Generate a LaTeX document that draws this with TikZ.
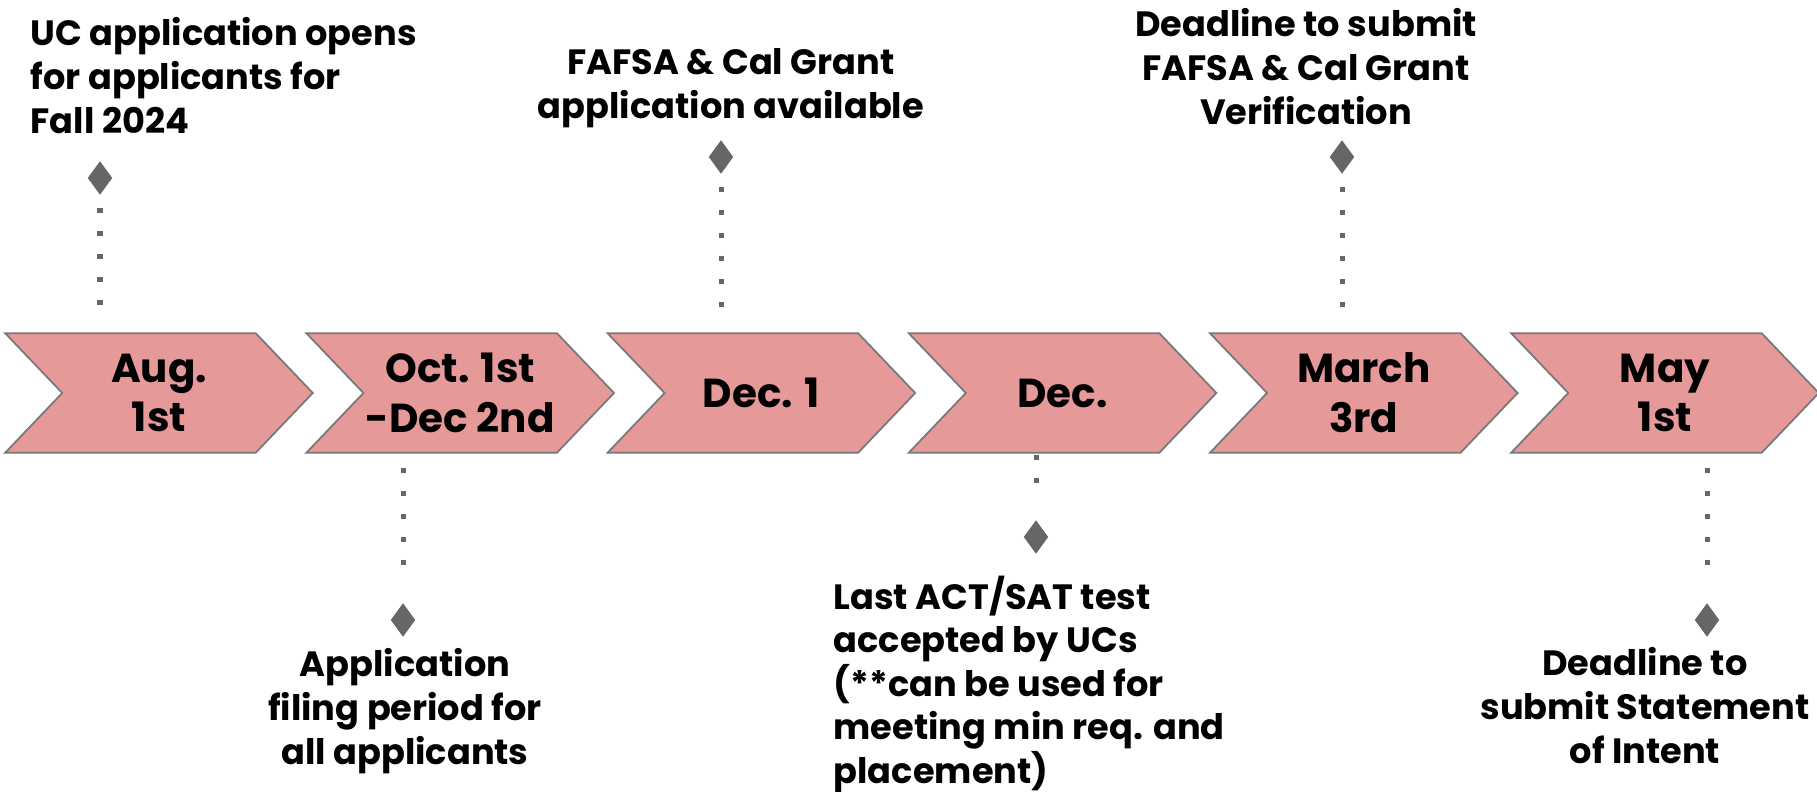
\documentclass[tikz,border=0pt]{standalone}
\usepackage{fontspec}
\setmainfont{Poppins}
\usetikzlibrary{shapes.geometric,backgrounds}

\definecolor{chevfill}{RGB}{230,153,153}
\definecolor{chevline}{RGB}{120,120,120}
\definecolor{markgray}{RGB}{102,102,102}

\tikzset{
  chev/.style={fill=chevfill, draw=chevline, line width=0.5pt},
  datebox/.style={minimum width=3.06cm, minimum height=1.18cm, inner sep=0pt,
    align=center, font=\bfseries\fontsize{11.5}{14.2}\selectfont},
  diam/.style={diamond, fill=markgray, inner sep=0pt,
    minimum width=0.25cm, minimum height=0.34cm},
  evtext/.style={inner sep=0pt, font=\bfseries\fontsize{10}{12.4}\selectfont},
  leader/.style={markgray, line width=0.05cm, dash pattern=on 0.05cm off 0.18cm}
}

\begin{document}
\begin{tikzpicture}[x=0.01cm, y=-0.01cm]
    \useasboundingbox (0,0) rectangle (1817,792);

    % date chevrons
    \foreach \i/\txt in {1/{Aug.\\1st}, 2/{Oct. 1st\\-Dec 2nd}, 3/{Dec. 1},
                         4/{Dec.}, 5/{March\\3rd}, 6/{May\\1st}}
        \node[datebox] (c\i) at ({6+301.2*(\i-1)+153}, 393) {\txt};
    \begin{scope}[on background layer]
        \fill[white] (0,0) rectangle (1817,792);
        \foreach \i in {1,...,6}
            \draw[chev] (c\i.north west) -- ([xshift=-0.57cm]c\i.north east) -- (c\i.east)
                -- ([xshift=-0.57cm]c\i.south east) -- (c\i.south west)
                -- ([xshift=0.57cm]c\i.west) -- cycle;
    \end{scope}

    % markers
    \node[diam] (d1) at (100,178) {};
    \node[diam] (d2) at (403,620) {};
    \node[diam] (d3) at (721,157) {};
    \node[diam] (d4) at (1036,537) {};
    \node[diam] (d5) at (1342,157) {};
    \node[diam] (d6) at (1707,620) {};

    \draw[leader] ([yshift=-0.12cm]d1.south) -- ([yshift=0.12cm]d1.south |- c1.north);
    \draw[leader] ([yshift=-0.12cm]d3.south) -- ([yshift=0.12cm]d3.south |- c3.north);
    \draw[leader] ([yshift=-0.12cm]d5.south) -- ([yshift=0.12cm]d5.south |- c5.north);
    \draw[leader] ([yshift=-0.15cm]d2.north |- c2.south) -- ([yshift=0.2cm]d2.north);
    \draw[leader] ([yshift=-0.02cm]d4.north |- c4.south) -- ([yshift=0.2cm]d4.north);
    \draw[leader] ([yshift=-0.15cm]d6.north |- c6.south) -- ([yshift=0.2cm]d6.north);

    % event texts
    \node[evtext, anchor=north west, align=left] (t1) at (30,17)
        {UC application opens\\for applicants for\\Fall 2024};
    \node[evtext, anchor=north, align=center] (t2) at (405,648)
        {Application\\filing period for\\all applicants};
    \node[evtext, anchor=north, align=center] (t3) at (731,48)
        {FAFSA \& Cal Grant\\application available};
    \node[evtext, anchor=north west, align=left] (t4) at (833,575)
        {Last ACT/SAT test\\accepted by UCs\\(**can be used for\\meeting min req. and\\placement)};
    \node[evtext, anchor=north, align=center] (t5) at (1306,8)
        {Deadline to submit\\FAFSA \& Cal Grant\\Verification};
    \node[evtext, anchor=north, align=center] (t6) at (1645,647)
        {Deadline to\\submit Statement\\of Intent};
\end{tikzpicture}
\end{document}
